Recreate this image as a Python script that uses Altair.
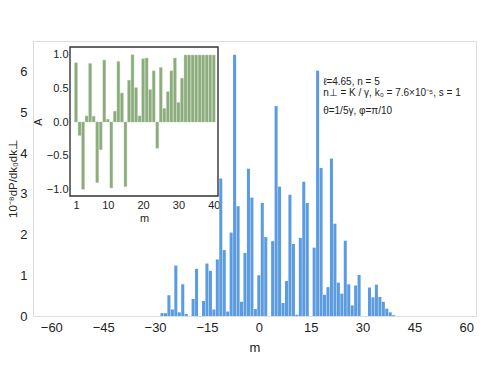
import altair as alt
import pandas as pd

# ---- main spectrum ----
m_main = list(range(-28, 40))
power = [0.07, 0.07, 0.51, 0.16, 1.24, 0.09, 0.78, 0.05, 0.0, 0.42,
         1.16, 0.0, 0.37, 1.29, 1.11, 0.16, 1.39, 3.38, 1.62, 0.11,
         2.05, 6.42, 2.70, 0.35, 1.55, 3.62, 2.91, 0.17, 1.00, 2.78,
         1.94, 0.0, 1.84, 5.16, 3.18, 0.32, 0.86, 2.98, 1.77, 0.03,
         1.92, 3.30, 2.78, 0.0, 1.68, 6.03, 3.64, 0.52, 0.71, 3.87,
         2.27, 0.82, 0.55, 1.85, 0.78, 0.26, 0.75, 1.01, 0.0, 0.0,
         0.70, 0.46, 0.77, 0.47, 0.35, 0.18, 0.09, 0.02]

# ---- inset asymmetry ----
m_inset = list(range(1, 41))
asym = [0.88, -0.20, -1.0, 0.09, 0.87, 0.085, -0.90, -0.41, 0.92, 0.04,
        -0.98, 0.16, 0.90, 0.43, -0.96, 0.62, 1.0, 0.51, 0.09, 0.94,
        0.95, 0.48, 0.76, -0.39, 0.81, 0.20, 0.45, 0.76, 0.95, 0.29,
        0.65, 0.995, 0.995, 0.995, 0.995, 0.995, 0.995, 0.995, 0.995, 0.995]

x_ticks = [-60, -45, -30, -15, 0, 15, 30, 45, 60]
y_ticks = [0, 1, 2, 3, 4, 5, 6]
inset_x_ticks = [1, 10, 20, 30, 40]
inset_y_ticks = [-1.0, -0.5, 0.0, 0.5, 1.0]

notes = ["ℓ=4.65, n = 5",
         "n⊥ = K / γ, k₀ = 7.6×10⁻⁵, s = 1",
         "θ=1/5γ, φ=π/10"]

W, H = 443, 275
FONT = "Liberation Sans"

main_df = pd.DataFrame({"m": m_main, "P": power})
inset_df = pd.DataFrame({"m": m_inset, "A": asym})

main_bars = alt.Chart(main_df).transform_calculate(
    lo="datum.m - 0.44", hi="datum.m + 0.44"
).mark_bar(color="#5b9be0").encode(
    x=alt.X("lo:Q",
            scale=alt.Scale(domain=[-65.3, 62.8], nice=False, zero=False),
            axis=alt.Axis(values=x_ticks, title="m", grid=False, ticks=False,
                          domain=False, labelFontSize=13, titleFontSize=13,
                          labelPadding=5, titlePadding=7, titleFontWeight="normal",
                          labelColor="#222", titleColor="#222")),
    x2="hi:Q",
    y=alt.Y("P:Q",
            scale=alt.Scale(domain=[0, 6.76], nice=False),
            axis=alt.Axis(values=y_ticks, title="10⁻⁸dP/dk₀dk⊥", grid=False,
                          ticks=False, domain=False, labelFontSize=13,
                          titleFontSize=11.5, labelPadding=6, titlePadding=1,
                          titleFontWeight="normal", labelColor="#222",
                          titleColor="#222")),
    y2=alt.datum(0),
)

note_layers = []
note_pos = [(18.6, 5.74), (18.6, 5.47), (18.6, 5.03)]
for txt, (nx, ny) in zip(notes, note_pos):
    note_layers.append(
        alt.Chart(pd.DataFrame({"t": [txt]})).mark_text(
            align="left", baseline="middle", fontSize=10, color="#222", font=FONT
        ).encode(x=alt.datum(nx), y=alt.datum(ny), text="t:N")
    )

main = alt.layer(main_bars, *note_layers)

frame = alt.Chart(pd.DataFrame({"a": [0]})).mark_rect(
    fill="white", stroke="#333", strokeWidth=1.4
).encode(x=alt.value(37), x2=alt.value(185), y=alt.value(6), y2=alt.value(155))

inset_bars = alt.Chart(inset_df).transform_calculate(
    lo="datum.m - 0.4", hi="datum.m + 0.4"
).mark_bar(color="#8aab7c", stroke="#a9c49c", strokeWidth=0.4).encode(
    x=alt.X("lo:Q",
            scale=alt.Scale(domain=[-0.7, 41.2], range=[37, 185], nice=False, zero=False),
            axis=alt.Axis(orient="bottom", offset=-120, values=inset_x_ticks,
                          title="m", grid=False, ticks=False, domain=False,
                          labelFontSize=11, titleFontSize=11, labelPadding=3,
                          titlePadding=2, titleFontWeight="normal",
                          labelColor="#222", titleColor="#222")),
    x2="hi:Q",
    y=alt.Y("A:Q",
            scale=alt.Scale(domain=[-1.1, 1.115], range=[155, 6], nice=False),
            axis=alt.Axis(orient="left", offset=-37, values=inset_y_ticks,
                          format=".1f", title="A", grid=False, ticks=False,
                          domain=False, labelFontSize=11, titleFontSize=11,
                          labelPadding=2, titlePadding=3,
                          titleFontWeight="normal", labelColor="#222",
                          titleColor="#222")),
    y2=alt.datum(0),
)

inset = alt.layer(frame, inset_bars)

chart = alt.layer(main, inset).resolve_scale(
    x="independent", y="independent"
).properties(
    width=W, height=H,
    autosize=alt.AutoSizeParams(type="none"),
    padding={"left": 25, "top": 33, "right": 14, "bottom": 50},
).configure_view(stroke="#444", strokeWidth=1).configure(font=FONT)

chart.save("out.html", embed_options={"renderer": "svg", "actions": False})
